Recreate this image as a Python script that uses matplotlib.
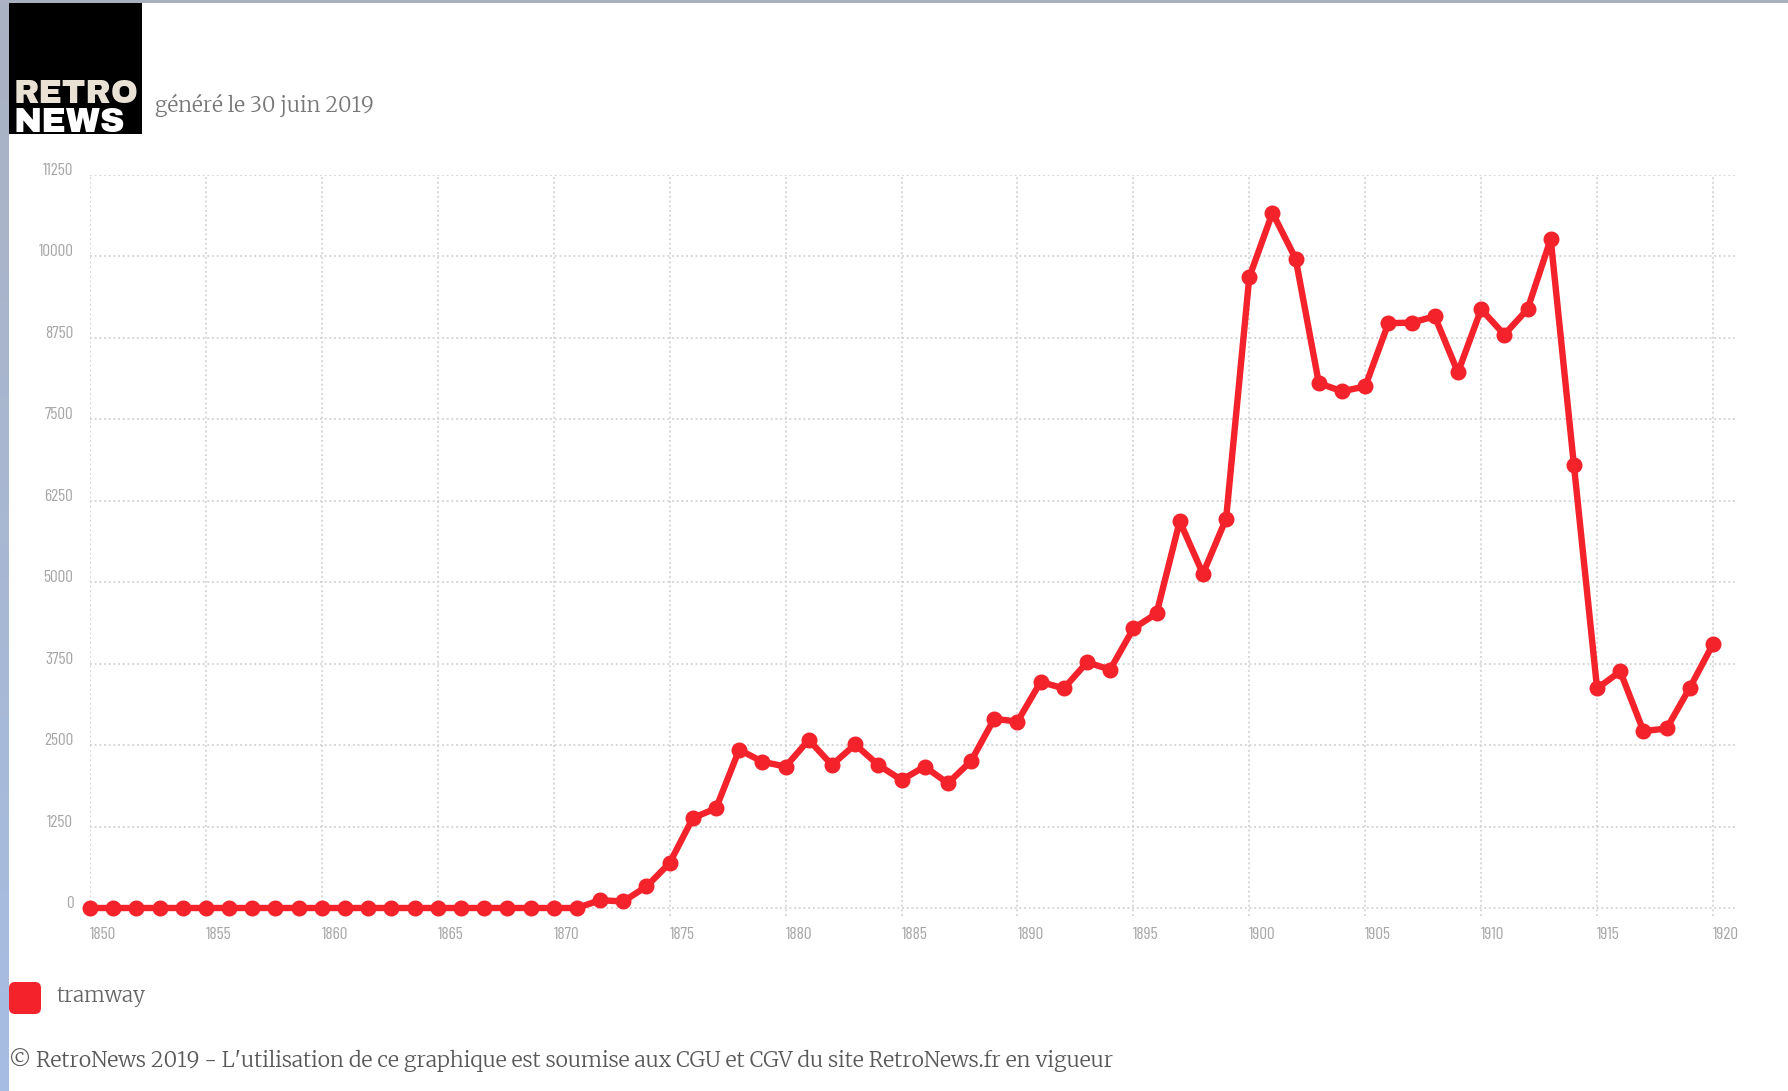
import matplotlib
matplotlib.use("Agg")
import matplotlib.pyplot as plt
import numpy as np
from matplotlib.patches import Rectangle, FancyBboxPatch
from matplotlib import font_manager

# ---------------- data ----------------
years = list(range(1850, 1921))
values = [0] * 22 + [
    120, 100, 330, 690, 1380, 1530, 2430, 2245, 2170, 2580,   # 1872-1881
    2195, 2510, 2195, 1965, 2170, 1915, 2255, 2905, 2860, 3470,  # 1882-1891
    3370, 3770, 3660, 4290, 4520, 5935, 5130, 5975, 9680, 10670,  # 1892-1901
    9965, 8055, 7930, 8005, 8975, 8985, 9080, 8220, 9190, 8800,  # 1902-1911
    9190, 10265, 6800, 3370, 3630, 2715, 2755, 3380, 4050,        # 1912-1920
]
series_name = "tramway"
y_ticks = [0, 1250, 2500, 3750, 5000, 6250, 7500, 8750, 10000, 11250]
x_ticks = list(range(1850, 1921, 5))
subtitle = "généré le 30 juin 2019"
footer = ("© RetroNews 2019 - L'utilisation de ce graphique est soumise aux "
          "CGU et CGV du site RetroNews.fr en vigueur")

available = {f.name for f in font_manager.fontManager.ttflist}

def pick(cands, default):
    for c in cands:
        if c in available:
            return [c, default]
    return [default]

TICK_FONT = pick(["Barlow Condensed", "Roboto Condensed", "Liberation Sans Narrow"], "DejaVu Sans")
SERIF = pick(["Merriweather", "Gelasio", "Noto Serif"], "DejaVu Serif")
LOGO = pick(["Archivo Black", "Montserrat"], "DejaVu Sans")

# ---------------- figure ----------------
W, H = 1788, 1091
fig = plt.figure(figsize=(W / 100, H / 100), dpi=100)
fig.patch.set_facecolor("white")

def fx(x):
    return x / W

def fy(y):
    return 1 - y / H

RED = "#f3222b"

# decorative frame strips
top = fig.add_axes([0, fy(3), 1, 3 / H])
top.axis("off")
top.add_patch(Rectangle((0, 0), 1, 1, color="#a9b1c1", transform=top.transAxes))
left = fig.add_axes([0, 0, fx(9), 1])
left.axis("off")
grad = np.linspace(0, 1, 256).reshape(-1, 1)
c_top = np.array([0xaa, 0xb2, 0xc3]) / 255
c_bot = np.array([0xa6, 0xbd, 0xe3]) / 255
img = c_top[None, None, :] * (1 - grad[:, :, None]) + c_bot[None, None, :] * grad[:, :, None]
left.imshow(img, aspect="auto", extent=(0, 1, 0, 1))

# logo
logo = fig.add_axes([fx(9), fy(134), fx(133), 131 / H])
logo.axis("off")
logo.add_patch(Rectangle((0, 0), 1, 1, color="black", transform=logo.transAxes))
fig.text(fx(14), fy(103), "RETRO", color="#e9e2d4", fontsize=23.5, fontweight="bold",
         family=LOGO, va="baseline", ha="left")
fig.text(fx(14), fy(132), "NEWS", color="white", fontsize=24.5, fontweight="bold",
         family=LOGO, va="baseline", ha="left")

fig.text(fx(155), fy(112), subtitle, color="#777777", fontsize=15.2,
         family=SERIF, va="baseline", ha="left")

# ---------------- main axes ----------------
ax_left, ax_right = 90, 1735
ax_top, ax_bot = 175, 916
ax = fig.add_axes([fx(ax_left), fy(ax_bot), fx(ax_right - ax_left), (ax_bot - ax_top) / H])
ax.set_facecolor("none")
y0 = -(ax_bot - 908) / (908 - ax_top) * 11250
ax.set_ylim(y0, 11250)
ax.set_xlim(1850, 1850 + (ax_right - ax_left) / ((1713 - 90) / 70))

for s in ax.spines.values():
    s.set_visible(False)

dot = (0, (1, 1.6))
for yv in y_ticks:
    ax.axhline(yv, color="#d2d2d2", lw=1.3, ls=dot, zorder=1)
for xv in x_ticks:
    ax.axvline(xv, color="#d2d2d2", lw=1.3, ls=dot, zorder=1)

ax.plot(years, values, color=RED, lw=4.6, marker="o", markersize=10.5,
        solid_joinstyle="round", solid_capstyle="round", zorder=3, clip_on=False)

ax.set_yticks(y_ticks)
ax.set_yticklabels([str(v) for v in y_ticks])
ax.set_xticks(x_ticks)
ax.set_xticklabels([str(v) for v in x_ticks])
ax.tick_params(axis="both", length=0, labelcolor="#a6a6a6", labelsize=12.5)
ax.tick_params(axis="y", pad=12)
ax.tick_params(axis="x", pad=8)
for lab in ax.get_yticklabels():
    lab.set_family(TICK_FONT)
    lab.set_va("baseline")
for lab in ax.get_xticklabels():
    lab.set_family(TICK_FONT)
    lab.set_ha("left")

# ---------------- legend ----------------
leg = fig.add_axes([0, 0, 1, 1])
leg.set_xlim(0, W)
leg.set_ylim(H, 0)
leg.axis("off")
leg.set_zorder(-1)
leg.add_patch(FancyBboxPatch((13, 986), 24, 24, boxstyle="round,pad=4,rounding_size=6",
                             color=RED, lw=0))
fig.text(fx(57), fy(996), series_name, color="#666666", fontsize=15.1,
         family=SERIF, va="center", ha="left")

fig.text(fx(9), fy(1060), footer, color="#595959", fontsize=15.3,
         family=SERIF, va="center", ha="left")

fig.savefig("out.png", dpi=100, facecolor="white")
